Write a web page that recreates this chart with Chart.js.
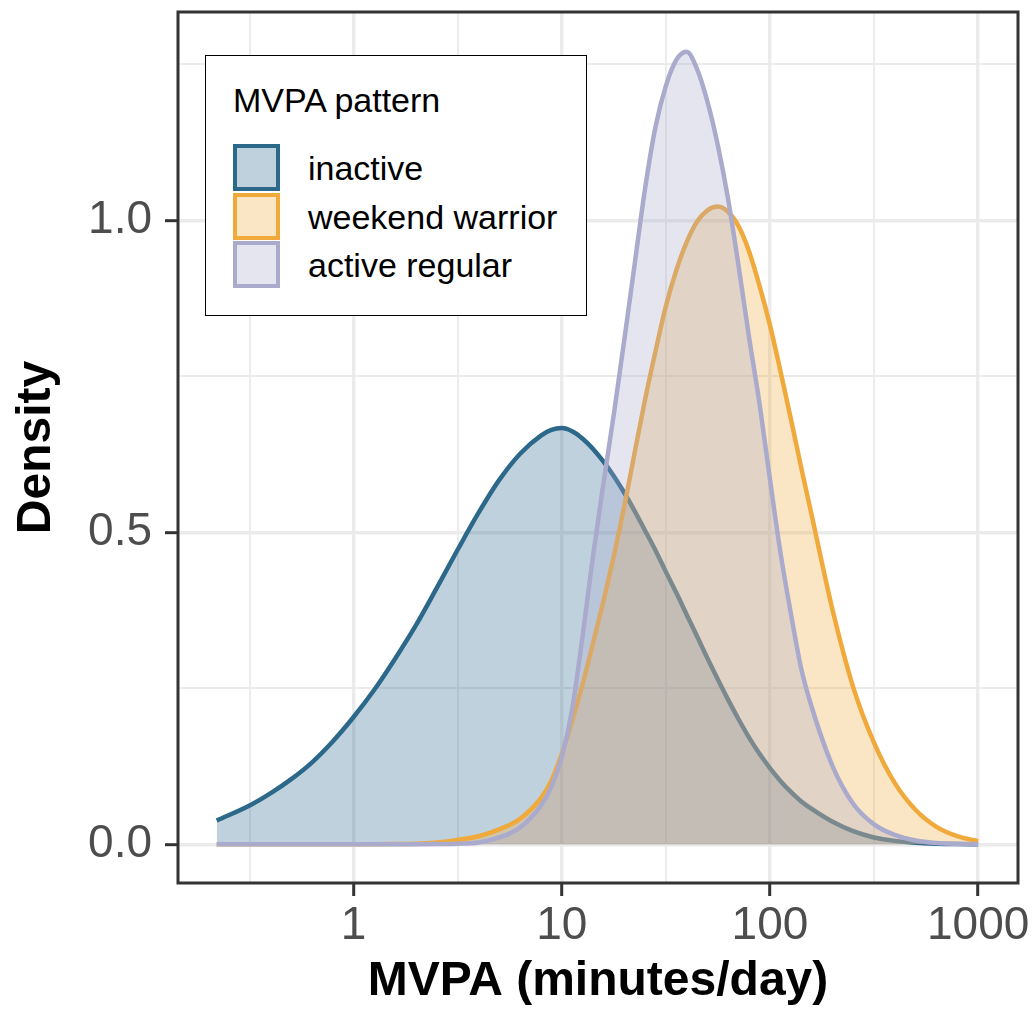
<!DOCTYPE html>
<html>
<head>
<meta charset="utf-8">
<script src="https://cdn.jsdelivr.net/npm/chart.js@4.4.1/dist/chart.umd.min.js"></script>
<style>
    html, body { margin: 0; padding: 0; background: #fff; }
    #wrap { position: relative; width: 1036px; height: 1013px; font-family: 'Liberation Sans', Arial, sans-serif; }
    #chart { position: absolute; left: 0; top: 0; }
    #legend-box { position: absolute; left: 205px; top: 55px; width: 382px; height: 261px; box-sizing: border-box; border: 1.5px solid #000; background: #fff; }
    .leg-text { position: absolute; font-size: 34px; line-height: 34px; color: #000; white-space: nowrap; }
    .leg-key { position: absolute; width: 47px; height: 47px; box-sizing: border-box; border: 4px solid; }
</style>
</head>
<body>
<div id="wrap">
    <canvas id="chart" width="1036" height="1013"></canvas>
    <div id="legend-box"></div>
</div>
<script>
// MVPA minutes/day (x positions of the density estimates)
const mvpa = [0.22, 0.32, 0.40, 0.50, 0.63, 0.79,
    1, 1.26, 1.58, 2.0, 2.51, 3.16, 3.98, 5.01, 6.31, 7.94, 8.91,
    10, 11.2, 12.6, 14.1, 15.8, 17.8, 20.0, 22.4, 25.1, 28.2, 31.6, 35.5, 39.8, 44.7, 50.1, 56.2, 63.1, 70.8, 79.4, 89.1,
    100, 112, 126, 141, 158, 200, 251, 316, 398, 501, 631, 794,
    1000];

const inactive = [0.038, 0.063, 0.082, 0.104, 0.131, 0.164,
    0.204, 0.248, 0.297, 0.352, 0.411, 0.472, 0.531, 0.584, 0.626, 0.655, 0.664,
    0.667, 0.662, 0.650, 0.634, 0.614, 0.590, 0.563, 0.534, 0.503, 0.471, 0.437, 0.403, 0.368, 0.333, 0.298, 0.264, 0.231, 0.200, 0.171, 0.145,
    0.122, 0.102, 0.084, 0.069, 0.057, 0.036, 0.021, 0.011, 0.0055, 0.0025, 0.001, 0.0004,
    0.0001];

const weekendWarrior = [0, 0, 0, 0, 0, 0,
    0, 0.0001, 0.0004, 0.001, 0.003, 0.007, 0.013, 0.024, 0.041, 0.074, 0.102,
    0.145, 0.197, 0.257, 0.321, 0.388, 0.463, 0.543, 0.628, 0.712, 0.790, 0.862, 0.920, 0.965, 0.998, 1.016, 1.022, 1.013, 0.990, 0.950, 0.895,
    0.832, 0.760, 0.682, 0.605, 0.530, 0.375, 0.252, 0.163, 0.098, 0.055, 0.028, 0.013,
    0.005];

const activeRegular = [0, 0, 0, 0, 0, 0,
    0, 0, 0.0001, 0.0002, 0.0005, 0.001, 0.003, 0.011, 0.027, 0.062, 0.092,
    0.140, 0.215, 0.335, 0.460, 0.575, 0.690, 0.810, 0.930, 1.050, 1.150, 1.215, 1.257, 1.270, 1.242, 1.190, 1.120, 1.032, 0.925, 0.812, 0.706,
    0.585, 0.470, 0.370, 0.283, 0.222, 0.125, 0.065, 0.032, 0.015, 0.006, 0.002, 0.0007,
    0.0002];

const seriesNames = ['inactive', 'weekend warrior', 'active regular'];
const seriesValues = [inactive, weekendWarrior, activeRegular];
const lineColors = ['#2C688A', '#F0AA3C', '#AAAACC'];
const fillColors = ['rgba(44, 104, 138, 0.3)', 'rgba(240, 170, 60, 0.3)', 'rgba(170, 170, 204, 0.3)'];

const xTicks = [1, 10, 100, 1000];
const xTickLabels = ['1', '10', '100', '1000'];
const xMinorTicks = [0.3162, 3.162, 31.62, 316.2];
const yTicks = [0, 0.5, 1.0];
const yTickLabels = ['0.0', '0.5', '1.0'];
const yMinorTicks = [0.25, 0.75, 1.25];

const isIn = (list, v) => list.findIndex(t => Math.abs(t - v) <= Math.abs(t) * 1e-6 + 1e-9);

// ggplot style panel border drawn on top
const panelBorder = {
    id: 'panelBorder',
    afterDraw(chart) {
        const { ctx, chartArea: a } = chart;
        ctx.save();
        ctx.strokeStyle = '#333333';
        ctx.lineWidth = 3;
        ctx.strokeRect(a.left, a.top, a.right - a.left, a.bottom - a.top);
        ctx.restore();
    }
};

new Chart(document.getElementById('chart'), {
    type: 'line',
    data: {
        datasets: seriesNames.map((name, i) => ({
            label: name,
            data: mvpa.map((m, j) => ({ x: m, y: seriesValues[i][j] })),
            borderColor: lineColors[i],
            backgroundColor: fillColors[i],
            borderWidth: 4.5,
            fill: 'origin',
            pointRadius: 0,
            cubicInterpolationMode: 'monotone',
            order: seriesNames.length - i
        }))
    },
    options: {
        responsive: false,
        animation: false,
        devicePixelRatio: 1,
        layout: { padding: { top: 12, right: 18, left: 0, bottom: 0 } },
        plugins: { legend: { display: false }, tooltip: { enabled: false } },
        scales: {
            x: {
                type: 'logarithmic',
                min: 0.1434,
                max: 1554,
                afterBuildTicks: s => {
                    s.ticks = xMinorTicks.concat(xTicks).sort((a, b) => a - b).map(v => ({ value: v }));
                },
                afterFit: s => { s.height = 130; s.paddingLeft = 0; s.paddingRight = 0; },
                border: { display: false },
                grid: {
                    color: '#EBEBEB',
                    lineWidth: c => isIn(xTicks, c.tick.value) >= 0 ? 3.4 : 1.9,
                    tickLength: 13,
                    tickWidth: 3,
                    tickColor: c => isIn(xTicks, c.tick.value) >= 0 ? '#333333' : 'rgba(0,0,0,0)'
                },
                ticks: {
                    autoSkip: false,
                    maxRotation: 0,
                    padding: 3,
                    color: '#4D4D4D',
                    font: { family: "'Liberation Sans', Arial, sans-serif", size: 46 },
                    callback: v => { const k = isIn(xTicks, v); return k >= 0 ? xTickLabels[k] : ''; }
                },
                title: {
                    display: true,
                    text: 'MVPA (minutes/day)',
                    color: '#000',
                    font: { family: "'Liberation Sans', Arial, sans-serif", size: 48, weight: 'bold' },
                    padding: { top: 0, bottom: 2 }
                }
            },
            y: {
                type: 'linear',
                min: -0.062,
                max: 1.3338,
                afterBuildTicks: s => {
                    s.ticks = yTicks.concat(yMinorTicks).sort((a, b) => a - b).map(v => ({ value: v }));
                },
                afterFit: s => { s.width = 178; s.paddingTop = 0; s.paddingBottom = 0; },
                border: { display: false },
                grid: {
                    color: '#EBEBEB',
                    lineWidth: c => isIn(yTicks, c.tick.value) >= 0 ? 3.4 : 1.9,
                    tickLength: 13,
                    tickWidth: 3,
                    tickColor: c => isIn(yTicks, c.tick.value) >= 0 ? '#333333' : 'rgba(0,0,0,0)'
                },
                ticks: {
                    padding: 13,
                    color: '#4D4D4D',
                    font: { family: "'Liberation Sans', Arial, sans-serif", size: 46 },
                    callback: v => { const k = isIn(yTicks, v); return k >= 0 ? yTickLabels[k] : ''; }
                },
                title: {
                    display: true,
                    text: 'Density',
                    color: '#000',
                    font: { family: "'Liberation Sans', Arial, sans-serif", size: 48, weight: 'bold' },
                    padding: { top: 8, bottom: 0 }
                }
            }
        }
    },
    plugins: [panelBorder]
});

// legend (ggplot style, inside the panel)
const wrap = document.getElementById('wrap');
const addText = (txt, left, top) => {
    const d = document.createElement('div');
    d.className = 'leg-text';
    d.textContent = txt;
    d.style.left = left + 'px';
    d.style.top = top + 'px';
    wrap.appendChild(d);
};
addText('MVPA pattern', 233, 83);
seriesNames.forEach((name, i) => {
    const k = document.createElement('div');
    k.className = 'leg-key';
    k.style.left = '233px';
    k.style.top = (144 + i * 48.5) + 'px';
    k.style.borderColor = lineColors[i];
    k.style.background = fillColors[i];
    wrap.appendChild(k);
    addText(name, 308, 151 + i * 48.5);
});
</script>
</body>
</html>
